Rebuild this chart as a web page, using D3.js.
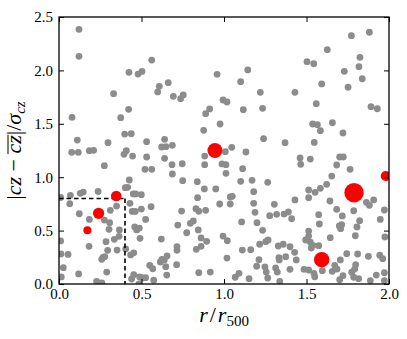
<!DOCTYPE html>
<html>
<head>
<meta charset="utf-8">
<script src="https://cdn.jsdelivr.net/npm/d3@7"></script>
<style>
html, body { margin: 0; padding: 0; background: #fff; }
svg text { font-family: "Liberation Serif", "DejaVu Serif", serif; fill: #000; }
</style>
</head>
<body>
<div class="container"></div>
<script>
// r/r500 vs |cz - mean cz| / sigma  (gray = members, red = flagged)
var grayPoints = [
  [0.121,2.385],[0.121,2.132],[0.424,1.982],[0.479,1.966],[0.503,1.99],[0.331,1.782],[0.079,1.561],
  [0.374,1.557],[0.422,1.636],[0.398,1.404],[0.438,1.407],[0.111,1.348],[0.297,1.323],[0.077,1.233],
  [0.117,1.233],[0.184,1.248],[0.21,1.252],[0.394,1.214],[0.408,1.248],[0.446,1.198],[0.531,1.333],
  [0.531,1.189],[0.64,1.355],[0.622,1.283],[0.648,1.286],[0.687,1.298],[0.64,1.177],[0.685,1.117],
  [0.747,1.126],[0.275,1.108],[0.521,1.074],[0.562,1.074],[0.562,2.097],[0.598,1.798],[0.608,1.851],
  [0.662,1.885],[0.693,1.757],[0.737,1.735],[0.753,1.77],[0.958,1.963],[0.994,1.723],[1.018,1.704],
  [0.913,1.639],[0.889,1.595],[0.976,1.498],[0.877,1.439],[1.772,2.325],[1.881,2.357],[1.626,2.194],
  [1.503,2.082],[1.544,2.063],[1.824,2.122],[1.818,2.035],[1.729,1.991],[1.838,1.922],[1.752,1.842],
  [1.592,1.873],[1.43,1.795],[1.559,1.688],[1.891,1.66],[1.929,1.641],[1.144,2.004],[1.101,1.894],
  [1.22,1.795],[1.117,1.632],[1.234,1.645],[1.537,1.498],[1.566,1.492],[1.584,1.436],[1.657,1.51],
  [1.721,1.414],[1.24,1.361],[1.37,1.323],[1.547,1.326],[1.047,1.28],[1.008,1.239],[0.883,1.198],
  [1.133,1.236],[1.461,1.18],[1.523,1.17],[1.701,1.189],[1.723,1.189],[0.883,1.117],[0.988,1.124],
  [1.012,1.117],[1.113,1.08],[1.465,1.121],[1.683,1.114],[1.764,1.074],[1.012,1.036],[0.687,1.03],
  [0.75,0.967],[0.838,0.958],[0.01,0.81],[0.069,0.83],[0.065,0.752],[0.129,0.849],[0.147,0.861],
  [0.237,0.866],[0.123,0.658],[0.184,0.605],[0.055,0.277],[0.012,0.281],[0.01,0.403],[0.026,0.153],
  [0.182,0.353],[0.119,0.094],[0.228,0.025],[0.289,0.112],[0.285,0.396],[0.303,0.512],[0.275,0.599],
  [0.307,0.574],[0.311,0.69],[0.349,0.73],[0.335,0.418],[0.366,0.506],[0.364,0.446],[0.352,0.318],
  [0.295,0.315],[0.267,0.25],[0.259,0.231],[0.277,0.256],[0.426,0.974],[0.402,0.902],[0.416,0.905],
  [0.45,0.843],[0.465,0.843],[0.499,0.836],[0.43,0.755],[0.444,0.68],[0.462,0.68],[0.499,0.702],
  [0.525,0.605],[0.459,0.534],[0.471,0.506],[0.487,0.524],[0.491,0.428],[0.404,0.328],[0.434,0.272],
  [0.453,0.292],[0.55,0.175],[0.568,0.143],[0.453,0.087],[0.44,0.047],[0.507,0.056],[0.525,0.059],
  [0.574,0.035],[0.614,0.206],[0.624,0.231],[0.638,0.225],[0.647,0.162],[0.653,0.084],[0.62,0.421],
  [0.558,0.724],[0.743,0.683],[0.715,0.349],[0.715,0.315],[0.72,0.552],[0.774,0.48],[0.796,0.568],
  [0.814,0.59],[0.847,0.106],[0.014,0.066],[0.26,0.01],[0.485,0.0],[0.489,0.066],[0.881,0.89],
  [0.95,0.89],[0.84,0.808],[0.974,0.749],[0.83,0.705],[0.847,0.681],[0.889,0.69],[0.844,0.506],
  [0.861,0.431],[0.895,0.4],[0.861,0.353],[0.832,0.325],[0.655,0.262],[0.713,0.181],[0.917,0.112],
  [0.994,0.449],[1.02,0.405],[1.101,0.961],[1.17,0.971],[1.265,0.952],[1.18,0.864],[1.05,0.821],
  [1.038,0.815],[1.038,0.749],[1.18,0.755],[1.188,0.671],[1.305,0.746],[1.43,0.787],[1.277,0.64],
  [1.319,0.652],[1.364,0.655],[1.39,0.674],[1.41,0.611],[1.107,0.581],[1.2,0.574],[1.234,0.503],
  [1.216,0.372],[1.253,0.396],[1.267,0.412],[1.329,0.356],[1.359,0.372],[1.4,0.349],[1.495,0.412],
  [1.111,0.318],[1.162,0.321],[1.018,0.243],[1.212,0.228],[1.333,0.246],[1.335,0.225],[1.374,0.256],
  [1.428,0.297],[1.438,0.225],[1.198,0.166],[1.248,0.159],[1.256,0.112],[1.313,0.15],[1.323,0.112],
  [1.4,0.137],[1.485,0.137],[1.091,0.1],[1.068,0.063],[1.152,0.05],[1.265,0.056],[1.338,0.025],
  [1.653,1.011],[1.622,0.933],[1.584,0.896],[1.552,0.858],[1.513,0.88],[1.513,0.808],[1.863,0.765],
  [1.881,0.737],[1.907,0.787],[1.642,0.777],[1.683,0.699],[1.786,0.686],[1.574,0.649],[1.717,0.637],
  [1.972,0.693],[1.947,0.605],[1.822,0.593],[1.578,0.562],[1.699,0.543],[1.713,0.555],[1.707,0.518],
  [1.806,0.534],[1.513,0.496],[1.513,0.449],[1.796,0.452],[1.644,0.434],[1.523,0.393],[1.539,0.362],
  [1.529,0.337],[1.574,0.359],[1.744,0.284],[1.81,0.281],[1.875,0.259],[1.705,0.225],[1.944,0.269],
  [1.962,0.237],[1.513,0.131],[1.545,0.1],[1.55,0.068],[1.596,0.125],[1.656,0.119],[1.671,0.175],
  [1.685,0.14],[1.798,0.181],[1.792,0.14],[1.721,0.078],[1.701,0.04],[1.774,0.11],[1.786,0.063],
  [1.816,0.05],[1.887,0.031],[1.923,0.084],[1.972,0.106],[1.972,0.031],[1.975,0.44]
];

var redX = [0.172, 0.24, 0.347, 0.945, 1.592, 1.788, 1.98];
var redY = [0.503, 0.662, 0.824, 1.25, 0.228, 0.855, 1.011];
var redWeight = [16, 32, 28, 56, 59, 94, 25];

var xTicks = [0, 0.5, 1.0, 1.5, 2.0];
var yTicks = [0, 0.5, 1.0, 1.5, 2.0, 2.5];
var xCut = 0.4, yCut = 0.8;

var width = 407, height = 339;
var margin = {top: 17, right: 18, bottom: 55, left: 59};
var pw = width - margin.left - margin.right;
var ph = height - margin.top - margin.bottom;

function init() {
    var svg = d3.select(".container").append("svg")
        .attr("width", width)
        .attr("height", height);

    var x = d3.scaleLinear().domain([0, 2]).range([0, pw]);
    var y = d3.scaleLinear().domain([0, 2.5]).range([ph, 0]);
    var r = d3.scaleSqrt().domain([0, d3.max(redWeight)]).range([0, 9.7]);

    svg.append("defs").append("clipPath").attr("id", "plotclip")
        .append("rect").attr("width", pw).attr("height", ph);

    var g = svg.append("g")
        .attr("transform", "translate(" + margin.left + "," + margin.top + ")");

    var plot = g.append("g").attr("clip-path", "url(#plotclip)");

    plot.selectAll("circle.gray")
        .data(grayPoints)
        .enter()
        .append("circle")
        .classed("gray", true)
        .attr("cx", function(d){ return x(d[0]); })
        .attr("cy", function(d){ return y(d[1]); })
        .attr("r", 3.4)
        .attr("fill", "#8c8c8c");

    // dashed box corner
    var cut = plot.append("g")
        .attr("fill", "none")
        .attr("stroke", "#000")
        .attr("stroke-width", 1.6)
        .attr("stroke-dasharray", "4.5,3");
    cut.append("line")
        .attr("x1", x(0)).attr("x2", x(xCut))
        .attr("y1", y(yCut)).attr("y2", y(yCut));
    cut.append("line")
        .attr("x1", x(xCut)).attr("x2", x(xCut))
        .attr("y1", y(yCut)).attr("y2", y(0));

    plot.selectAll("circle.red")
        .data(redX)
        .enter()
        .append("circle")
        .classed("red", true)
        .attr("cx", function(d){ return x(d); })
        .attr("cy", function(d, i){ return y(redY[i]); })
        .attr("r", function(d, i){ return r(redWeight[i]); })
        .attr("fill", "#ff0000");

    // axes, ticks pointing inward on all four sides
    var fmt = d3.format(".1f");
    var bottom = g.append("g").attr("transform", "translate(0," + ph + ")")
        .call(d3.axisBottom(x).tickValues(xTicks).tickFormat(fmt).tickSize(-5).tickPadding(4));
    var left = g.append("g")
        .call(d3.axisLeft(y).tickValues(yTicks).tickFormat(fmt).tickSize(-5).tickPadding(6));
    var top = g.append("g")
        .call(d3.axisTop(x).tickValues(xTicks).tickFormat("").tickSize(-5));
    var right = g.append("g").attr("transform", "translate(" + pw + ",0)")
        .call(d3.axisRight(y).tickValues(yTicks).tickFormat("").tickSize(-5));

    [bottom, left, top, right].forEach(function(a) {
        a.attr("font-family", null).attr("font-size", null);
        a.select(".domain").remove();
        a.selectAll("line").attr("stroke", "#000").attr("stroke-width", 1);
        a.selectAll("text").style("font-size", "15px");
    });

    g.append("rect")
        .attr("width", pw)
        .attr("height", ph)
        .attr("fill", "none")
        .attr("stroke", "#000")
        .attr("stroke-width", 1.3);

    // x label
    var xlab = svg.append("text")
        .attr("x", margin.left + pw / 2)
        .attr("y", 322)
        .attr("text-anchor", "middle")
        .style("font-size", "22px");
    xlab.append("tspan").style("font-style", "italic").text("r");
    xlab.append("tspan").attr("dx", 2).text("/");
    xlab.append("tspan").attr("dx", 2).style("font-style", "italic").text("r");
    xlab.append("tspan").style("font-size", "15px").attr("dy", 4).text("500");

    // y label
    var yg = svg.append("g")
        .attr("transform", "translate(21," + (margin.top + ph / 2) + ") rotate(-90)");
    var ylab = yg.append("text")
        .attr("text-anchor", "middle")
        .style("font-size", "22px");
    ylab.append("tspan").text("|");
    ylab.append("tspan").style("font-style", "italic").text("cz");
    ylab.append("tspan").text(" \u2212 ");
    ylab.append("tspan").style("font-style", "italic").text("cz");
    ylab.append("tspan").text("|/");
    ylab.append("tspan").style("font-style", "italic").text("\u03c3");
    ylab.append("tspan").style("font-style", "italic").style("font-size", "15px").attr("dy", 4).text("cz");

    var node = ylab.node();
    var p0 = node.getStartPositionOfChar(6);
    var p1 = node.getEndPositionOfChar(7);
    yg.append("line")
        .attr("x1", p0.x - 0.5).attr("x2", p1.x + 0.5)
        .attr("y1", -13).attr("y2", -13)
        .attr("stroke", "#000")
        .attr("stroke-width", 1);
}

init();
</script>
</body>
</html>
